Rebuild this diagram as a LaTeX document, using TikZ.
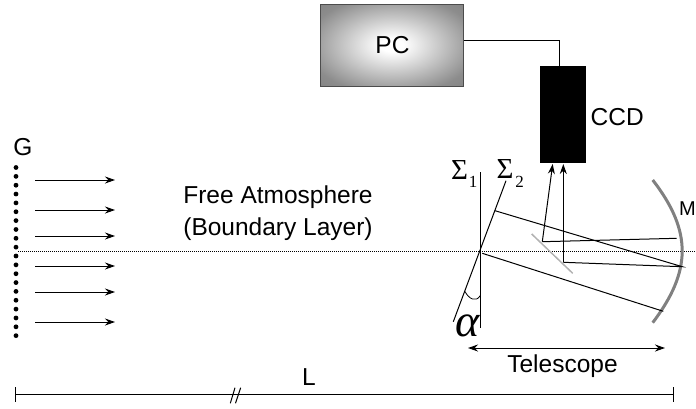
\documentclass[tikz,border=0pt]{standalone}
\usepackage{fontspec}
\setmainfont{Liberation Sans}
\newfontfamily\serifgreek{Liberation Serif}
\usetikzlibrary{arrows.meta}
\pgfdeclareradialshading{pcglow}{\pgfpoint{0bp}{0bp}}{color(0bp)=(white); color(4bp)=(white); color(30bp)=(black!45); color(50bp)=(black!55)}
\tikzset{
  lab/.style={inner sep=0pt,anchor=base,font=\fontsize{24.5}{26}\selectfont},
  tip/.style={-{Stealth[length=10pt,width=7pt]}},
  ray/.style={line width=1pt,black},
  wind/.style={ray,tip},
  span/.style={line width=1pt,{Stealth[length=10pt,width=7pt]}-{Stealth[length=10pt,width=7pt]}},
  sig/.style={inner sep=0pt,anchor=base,font=\serifgreek\fontsize{29}{31}\selectfont},
  sigsub/.style={inner sep=0pt,anchor=base,font=\serifgreek\fontsize{17}{18}\selectfont},
}
\begin{document}
\begin{tikzpicture}[x=1pt,y=-1pt]
\useasboundingbox (0,0) rectangle (696,408);
% PC and CCD
\node[draw=black!70,line width=1pt,minimum width=143pt,minimum height=82pt,inner sep=0pt,
      shading=pcglow] (pc) at (392,45) {};
\node[lab] (pclabel) at (392.5,53.5) {PC};
\node[draw=black,fill=black,minimum width=45pt,minimum height=96pt,inner sep=0pt] (ccd) at (562.8,114.5) {};
\node[lab,anchor=base west] (ccdlabel) at (590.5,125) {CCD};
\coordinate (bend) at (559,40.5);
\draw[line width=1pt] (pc.east |- bend) -- (bend) -- (bend |- ccd.north);
% Optical axis
\coordinate (axisL) at (18,251.5);
\coordinate (axisR) at (696,251.5);
\draw[line width=0.9pt,dash pattern=on 1pt off 1pt] (axisL) -- (axisR);
% Grid
\foreach \i in {0,...,19} \fill (16,{167.5+\i*8.85}) circle (2.4pt);
\node[lab] (g) at (23,155) {G};
% Wind
\foreach \y/\n in {180/a,210/b,236/c,266/d,292/e,322/f}{
  \coordinate (w\n s) at (35,\y);
  \coordinate (w\n e) at (115,\y);
  \draw[wind] (w\n s) -- (w\n e);
}
\node[lab] (atmA) at (278,203) {Free Atmosphere};
\node[lab] (atmB) at (278,235) {(Boundary Layer)};
% Sigma planes
\coordinate (s1t) at (480.3,172); \coordinate (s1b) at (480.3,328);
\coordinate (s2t) at (506,180.7); \coordinate (s2b) at (453.3,321.7);
\draw[line width=1pt] (s1t) -- (s1b);
\draw[line width=1pt] (s2t) -- (s2b);
\node[sig] (sg1) at (459.5,179) {Σ};
\node[sigsub] (sg1s) at (473,187) {1};
\node[sig] (sg2) at (505,178) {Σ};
\node[sigsub] (sg2s) at (519.5,187) {2};
\draw[line width=0.8pt] (465,291.5) .. controls (468.5,298.5) and (476,303) .. (480.3,295.5);
\node[inner sep=0pt,anchor=base,font=\serifgreek\itshape\fontsize{46}{48}\selectfont] (alpha) at (467.5,336) {α};
% Mirrors
\coordinate (mt) at (652.7,180); \coordinate (mb) at (652.7,322.7);
\draw[line width=3pt,black!50] (mt) .. controls (693,232) and (691,272) .. (mb);
\node[lab,anchor=base west,font=\fontsize{20}{22}\selectfont] (mlabel) at (679,215) {M};
\coordinate (sect) at (531.7,234); \coordinate (secb) at (572.7,273.3);
\draw[line width=1.5pt,black!30] (sect) -- (secb);
% Rays
\coordinate (u1) at (495,210.7); \coordinate (u2) at (682.3,266.7);
\coordinate (l1) at (482.3,253.3); \coordinate (l2) at (663.3,311.3);
\coordinate (r1) at (676.7,238.3); \coordinate (r2) at (542.3,241.7); \coordinate (r3) at (552.7,164);
\coordinate (q2) at (563.3,262.3); \coordinate (q3) at (563.3,164);
\draw[ray] (u1) -- (u2) -- (q2);
\draw[ray] (l1) -- (l2);
\draw[ray] (r1) -- (r2);
\draw[ray,tip] (r2) -- (r3);
\draw[ray,tip] (q2) -- (q3);
% Telescope span
\coordinate (ts) at (468,348); \coordinate (te) at (665,348);
\draw[span] (ts) -- (te);
\node[lab] (telescope) at (562.5,372) {Telescope};
% L span
\coordinate (ll) at (15,394); \coordinate (lr) at (673,394);
\draw[line width=1pt] (ll) -- (lr);
\draw[line width=0.7pt] (15,387) -- (15,402);
\draw[line width=0.7pt] (673,387) -- (673,402);
\draw[line width=1pt] (230.3,403.3) -- (235,387.7);
\draw[line width=1pt] (235.5,403.3) -- (240.7,387.7);
\node[lab] (l) at (309,385) {L};
\end{tikzpicture}
\end{document}
